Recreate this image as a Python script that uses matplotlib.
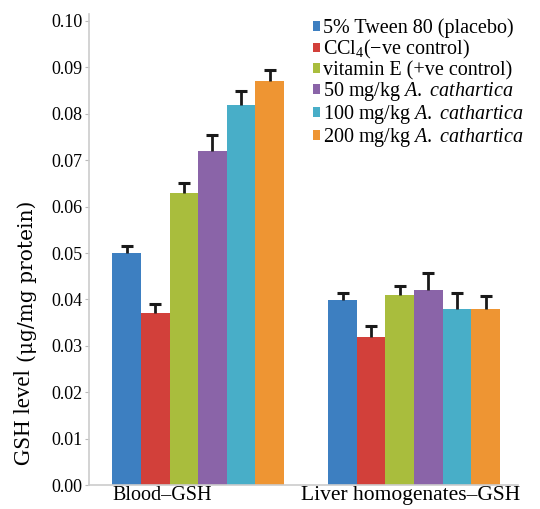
import matplotlib.pyplot as plt
import numpy as np

plt.rcParams['font.family'] = ['Liberation Serif', 'DejaVu Serif']
plt.rcParams['mathtext.fontset'] = 'custom'
plt.rcParams['mathtext.rm'] = 'Liberation Serif'
plt.rcParams['mathtext.it'] = 'Liberation Serif:italic'

# data
groups = ['Blood\u2013GSH', 'Liver homogenates\u2013GSH']
series = ['5% Tween 80 (placebo)', 'CCl$_4$(\u2212ve control)', 'vitamin E (+ve control)',
          '50 mg/kg $\\it{A.\\ cathartica}$', '100 mg/kg $\\it{A.\\ cathartica}$',
          '200 mg/kg $\\it{A.\\ cathartica}$']
colors = ['#3d7fc1', '#d2403a', '#a9bd3d', '#8a64a8', '#48aec8', '#ee9533']

blood = [0.050, 0.037, 0.063, 0.072, 0.082, 0.087]
blood_err = [0.0015, 0.002, 0.002, 0.0035, 0.003, 0.0025]
liver = [0.0398, 0.0318, 0.041, 0.042, 0.038, 0.038]
liver_err = [0.0015, 0.0025, 0.002, 0.0037, 0.0033, 0.0027]

values = np.array([blood, liver]).T
errors = np.array([blood_err, liver_err]).T

fig = plt.figure(figsize=(5.4, 5.09), dpi=100)
ax = fig.add_axes([0.165, 0.047, 0.794, 0.9255])

x = np.arange(len(groups))
w = 0.1325
for i in range(len(series)):
    pos = x + (i - 2.5) * w
    ax.bar(pos, values[i], width=w, color=colors[i], label=series[i])
    # upper error bar only
    ax.errorbar(pos, values[i], yerr=[np.zeros(len(groups)), errors[i]],
                fmt='none', ecolor='#1a1a1a', elinewidth=2, capsize=0)
    ax.plot(pos, values[i] + errors[i], ls='none', marker='_', markersize=9,
            mew=2.2, color='#1a1a1a')

ax.set_xlim(-0.505, 1.481)
ax.set_ylim(0, 0.1015)
ax.set_yticks(np.arange(0, 0.101, 0.01))
ax.set_yticklabels([f'{v:.2f}' for v in np.arange(0, 0.101, 0.01)], fontsize=13)
ax.set_xticks([-0.167, 0.985])
ax.set_xticklabels(groups, fontsize=14.5)
ax.get_xticklabels()[1].set_fontsize(15.5)
ax.tick_params(axis='x', length=0, pad=1)
ax.tick_params(axis='y', length=3, color='#bbbbbb', pad=2)

for s in ['top', 'right']:
    ax.spines[s].set_visible(False)
for s in ['left', 'bottom']:
    ax.spines[s].set_color('#cccccc')
    ax.spines[s].set_linewidth(1.2)

# y label in two sizes
fig.text(25 / 540, 1 - 465 / 509, 'GSH level', rotation=90, ha='center', va='bottom', fontsize=16.5)
fig.text(27 / 540, 1 - 362 / 509, '(\u03bcg/mg protein)', rotation=90, ha='center', va='bottom',
         fontsize=14.5, family='DejaVu Serif')

leg = ax.legend(loc='upper right', bbox_to_anchor=(1.018, 0.995), frameon=False, fontsize=14.5,
                handlelength=0.35, handleheight=0.35, handletextpad=0.15, labelspacing=0.0,
                borderaxespad=0.0, borderpad=0.1)

fig.savefig('out.png', dpi=100)
